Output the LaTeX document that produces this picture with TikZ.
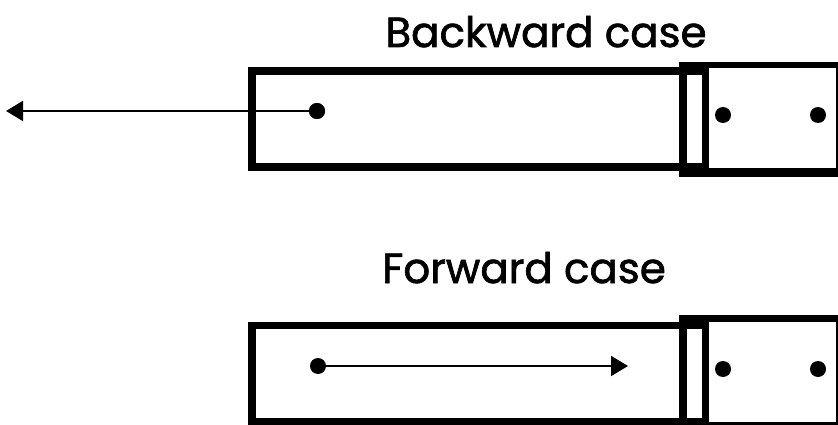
\documentclass[tikz,border=0pt]{standalone}
\usepackage{fontspec}
\setmainfont{Poppins}
\newfontfamily\titlefont{Poppins}[FakeBold=1.6]
\usetikzlibrary{arrows.meta}
\begin{document}
\begin{tikzpicture}[x=1pt,y=-1pt,
  dotnode/.style={circle,fill=black,inner sep=0pt,minimum size=16pt},
  title/.style={anchor=base,font=\titlefont\fontsize{42}{50}\selectfont,inner sep=0pt},
  rod/.style={line width=2pt,-{Triangle[length=17pt,width=20pt]}}]
\useasboundingbox (0,0) rectangle (838,425);
% ---------- backward case ----------
\node[title] (tb) at (546,47) {Backward case};
\fill (248,67) rectangle (683,171);
\fill[white] (256,75) rectangle (683,163);
\fill (679,62) rectangle (838,177);
\fill[white] (709,68) rectangle (836,168);
\fill[white] (687,75) rectangle (702,163);
\node[dotnode] (b1) at (317,111) {};
\node[dotnode] (b2) at (723,115) {};
\node[dotnode] (b3) at (818,115) {};
\coordinate (bend) at (6,111);
\draw[rod] (b1.center) -- (bend);
\node[dotnode] at (317,111) {};
% ---------- forward case ----------
\node[title] (tf) at (524,283) {Forward case};
\fill (248,322) rectangle (683,426);
\fill[white] (256,329) rectangle (683,418);
\fill (679,315) rectangle (838,431);
\fill[white] (709,322) rectangle (836,422);
\fill[white] (687,329) rectangle (702,418);
\node[dotnode] (f1) at (318,366) {};
\node[dotnode] (f2) at (723,369) {};
\node[dotnode] (f3) at (818,369) {};
\coordinate (fend) at (628,366);
\draw[rod] (f1.center) -- (fend);
\end{tikzpicture}
\end{document}
